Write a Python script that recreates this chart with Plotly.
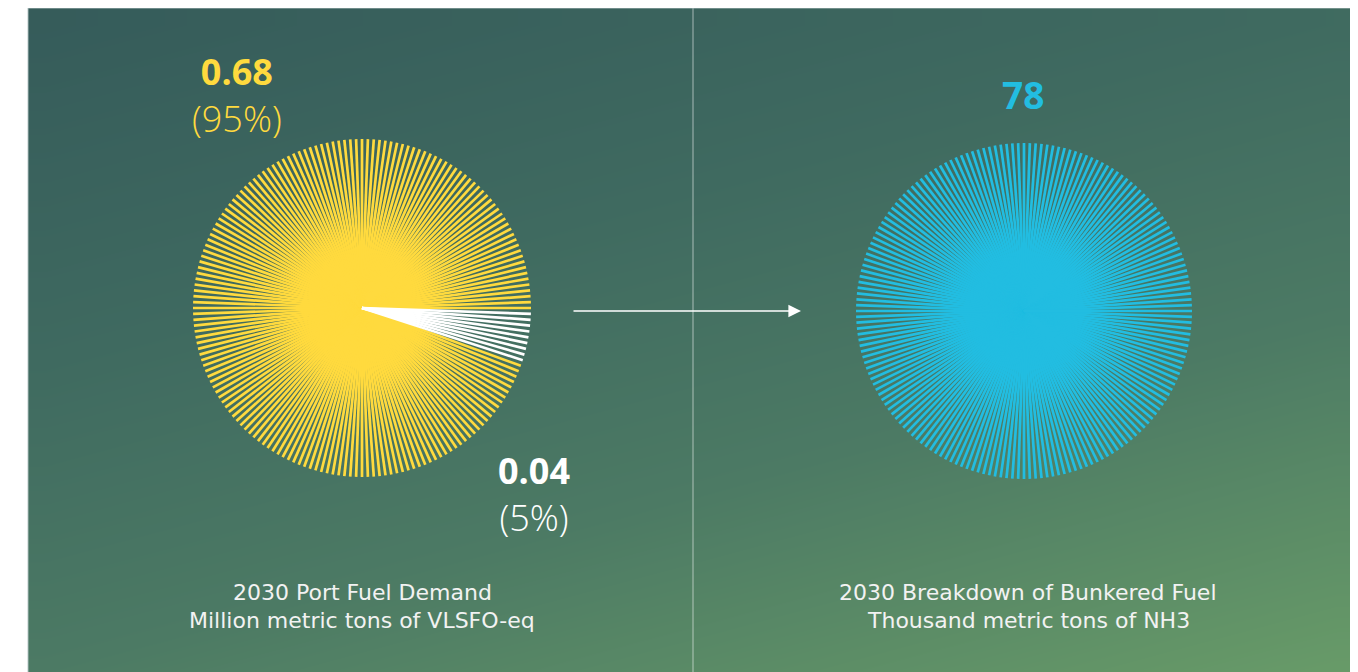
import numpy as np
import plotly.graph_objects as go

# ---------------- data ----------------
left_categories = ["Other port fuel", "Bunkered fuel"]
left_values = [0.68, 0.04]          # million metric tons VLSFO-eq
left_pct = [95, 5]
left_colors = ["#FFDA3E", "#FFFFFF"]

right_categories = ["Bunkered NH3"]
right_values = [78]                 # thousand metric tons NH3
right_pct = [100]
right_colors = ["#22BDE1"]

left_title = ["2030 Port Fuel Demand", "Million metric tons of VLSFO-eq"]
right_title = ["2030 Breakdown of Bunkered Fuel", "Thousand metric tons of NH3"]

N_LINES = 180

# ---------------- layout constants ----------------
W, H = 1358, 672
OFF = 8  # page body margin offset
PX0, PX1, PY0, PY1 = 28, 1353, 8, 690
L_CX, L_CY, L_R = 362, 308, 169
R_CX, R_CY, R_R = 1024, 311, 168

fig = go.Figure()

# gradient background
nx, ny = 40, 20
xe = np.linspace(PX0, PX1, nx + 1)
ye = np.linspace(PY0, PY1, ny + 1)
xc = (xe[:-1] + xe[1:]) / 2
yc = (ye[:-1] + ye[1:]) / 2
XN, YN = np.meshgrid((xc - PX0) / (PX1 - PX0), (yc - PY0) / (672 - PY0))
Z = np.clip(0.35 * XN + 0.65 * YN, 0, 1)
fig.add_trace(go.Heatmap(
    x=xe, y=ye, z=Z, zsmooth="best", showscale=False, hoverinfo="skip",
    zmin=0, zmax=1,
    colorscale=[[0, "#355B5A"], [0.35, "#3F6A60"], [0.65, "#4C7A64"], [1, "#689B68"]],
))


def burst(cx, cy, r, pct, colors, start_deg=0.0):
    counts = [int(round(p / 100 * N_LINES)) for p in pct]
    step = 360.0 / N_LINES
    traces = []
    k = 0
    for cnt, col in zip(counts, colors):
        xs, ys = [], []
        for _ in range(cnt):
            k += 1
            a = np.deg2rad(start_deg - step * k)
            xs += [cx, cx + r * np.cos(a), None]
            ys += [cy, cy - r * np.sin(a), None]
        traces.append((xs, ys, col))
    return traces


# left: white (5%) first going clockwise from horizontal, then yellow
left_order = [1, 0]
lt = burst(L_CX, L_CY, L_R, [left_pct[i] for i in left_order],
           [left_colors[i] for i in left_order])
for xs, ys, col in reversed(lt):
    fig.add_trace(go.Scatter(x=xs, y=ys, mode="lines", hoverinfo="skip",
                             line=dict(color=col, width=2.7), showlegend=False))

rt = burst(R_CX, R_CY, R_R, right_pct, right_colors)
for xs, ys, col in rt:
    fig.add_trace(go.Scatter(x=xs, y=ys, mode="lines", hoverinfo="skip",
                             line=dict(color=col, width=2.7), showlegend=False))

# divider and panel border
fig.add_shape(type="line", x0=693, x1=693, y0=PY0, y1=PY1, xref="x", yref="y",
              line=dict(color="rgba(255,255,255,0.55)", width=1))
fig.add_shape(type="rect", x0=PX0, x1=PX1, y0=PY0, y1=PY1, xref="x", yref="y",
              line=dict(color="rgba(180,195,195,0.9)", width=1))

# arrow
fig.add_annotation(x=801, y=311, ax=572, ay=311, xref="x", yref="y", axref="x", ayref="y",
                   text="", showarrow=True, arrowhead=2, arrowsize=1.8, arrowwidth=1.4,
                   arrowcolor="#FFFFFF")


def txt(x, y, s, size, color, family, weight="normal"):
    fig.add_annotation(x=x, y=y, xref="x", yref="y", text=s, showarrow=False,
                       font=dict(family=family, size=size, color=color, weight=weight),
                       xanchor="center", yanchor="middle")


BIG = "Open Sans"
txt(237, 95, f"<b>{left_values[0]:.2f}</b><br>({left_pct[0]}%)", 36, left_colors[0], BIG, 300)
txt(534, 494, f"<b>{left_values[1]:.2f}</b><br>({left_pct[1]}%)", 36, "#FFFFFF", BIG, 300)
txt(1023, 94, f"{right_values[0]}", 37, right_colors[0], BIG, "bold")

CAP = "DejaVu Sans"
txt(362, 592, left_title[0], 22, "#F2F2F2", CAP)
txt(362, 620, left_title[1], 22, "#F2F2F2", CAP)
txt(1028, 592, right_title[0], 22, "#F2F2F2", CAP)
txt(1028, 620, right_title[1], 22, "#F2F2F2", CAP)

ax = dict(visible=False, showgrid=False, zeroline=False, fixedrange=True)
fig.update_layout(
    width=W, height=H, margin=dict(l=0, r=0, t=0, b=0),
    paper_bgcolor="#FFFFFF", plot_bgcolor="#FFFFFF",
    xaxis=dict(range=[OFF, W + OFF], domain=[0, 1], **ax),
    yaxis=dict(range=[H + OFF, OFF], domain=[0, 1], **ax),
    showlegend=False,
)

fig.write_html("out.html")
